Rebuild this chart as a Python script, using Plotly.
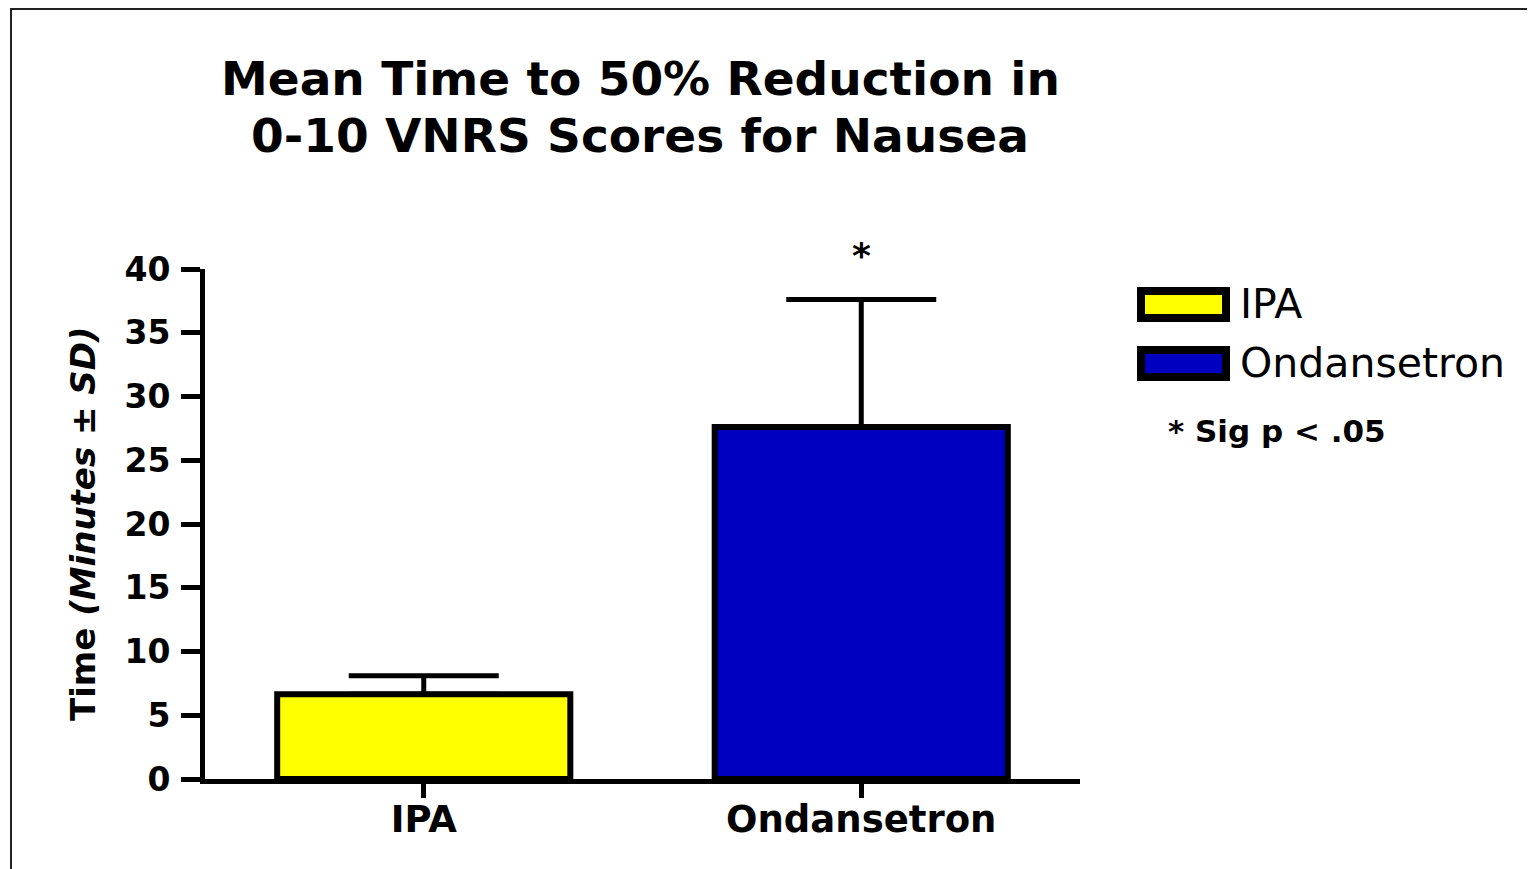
import plotly.graph_objects as go

# ---- data ----
categories = ["IPA", "Ondansetron"]
means = [6.65, 27.6]
sds = [1.45, 10.0]
colors = ["#FFFF00", "#0000C0"]
y_ticks = [0, 5, 10, 15, 20, 25, 30, 35, 40]
sig_marks = ["", "*"]
title_lines = ["Mean Time to 50% Reduction in", "0-10 VNRS Scores for Nausea"]

OFF = 8  # page body margin
W, H = 1535 - OFF, 869 - OFF
L, R, T, B = 205 - OFF, 1080 - OFF, 269 - OFF, 779 - OFF  # plot area in figure pixels
FONT = "DejaVu Sans"


def px_x(px):
    return (px - OFF - L) / (R - L)


def px_y(py):
    return (B - (py - OFF)) / (B - T)


fig = go.Figure()
fig.add_trace(go.Bar(
    x=categories, y=means, width=0.67,
    marker=dict(color=colors, line=dict(color="black", width=6)),
    error_y=dict(type="data", array=sds, arrayminus=[0] * len(sds), symmetric=False,
                 color="black", thickness=5, width=75),
    showlegend=False,
))

# significance asterisks
for c, m, s, mark in zip(categories, means, sds, sig_marks):
    if mark:
        fig.add_annotation(x=c, y=m + s, text=mark, showarrow=False,
                           yanchor="bottom", yshift=22,
                           font=dict(family=FONT, size=36, color="black", weight="bold"))

# title (two centred lines)
for i, line in enumerate(title_lines):
    fig.add_annotation(xref="paper", yref="paper", x=px_x(640), y=px_y(78 + i * 57),
                       xanchor="center", yanchor="middle", text=line, showarrow=False,
                       font=dict(family=FONT, size=47, color="black", weight="bold"))

# custom legend
for i, (c, col) in enumerate(zip(categories, colors)):
    top = 291 + i * 59
    fig.add_shape(type="rect", xref="paper", yref="paper",
                  x0=px_x(1141), x1=px_x(1226), y0=px_y(top), y1=px_y(top + 27),
                  fillcolor=col, line=dict(color="black", width=8))
    fig.add_annotation(xref="paper", yref="paper", x=px_x(1238), y=px_y(top + 13),
                       xanchor="left", yanchor="middle", text=c, showarrow=False,
                       font=dict(family=FONT, size=41, color="black"))
fig.add_annotation(xref="paper", yref="paper", x=px_x(1166), y=px_y(431),
                   xanchor="left", yanchor="middle", text="* Sig p < .05", showarrow=False,
                   font=dict(family=FONT, size=31, color="black", weight="bold"))

# y-axis title
fig.add_annotation(xref="paper", yref="paper", x=px_x(83), y=0.5, textangle=-90,
                   xanchor="center", yanchor="middle", showarrow=False,
                   text="<b>Time <i>(Minutes ± SD)</i></b>",
                   font=dict(family=FONT, size=34, color="black", weight="bold"))

# outer frame
fig.add_shape(type="rect", xref="paper", yref="paper",
              x0=px_x(11), x1=px_x(1580), y0=px_y(900), y1=px_y(9),
              line=dict(color="#222222", width=2), fillcolor="rgba(0,0,0,0)", layer="below")

fig.update_layout(
    width=W, height=H,
    margin=dict(l=L, r=W - R, t=T, b=H - B, pad=0),
    paper_bgcolor="white", plot_bgcolor="white",
    font=dict(family=FONT, color="black"),
    xaxis=dict(range=[-0.5, 1.5], showline=True, linecolor="black", linewidth=5,
               ticks="outside", ticklen=14, tickwidth=5, tickcolor="black",
               tickfont=dict(family=FONT, size=37, color="black", weight="bold"),
               ticklabelstandoff=-10,
               showgrid=False, zeroline=False, fixedrange=True),
    yaxis=dict(range=[0, 40], tickvals=y_ticks, showline=True, linecolor="black", linewidth=5,
               ticks="outside", ticklen=19, tickwidth=5, tickcolor="black",
               tickfont=dict(family=FONT, size=33, color="black", weight="bold"),
               showgrid=False, zeroline=False, ticklabelstandoff=4, fixedrange=True),
)

fig.write_html("out.html")
